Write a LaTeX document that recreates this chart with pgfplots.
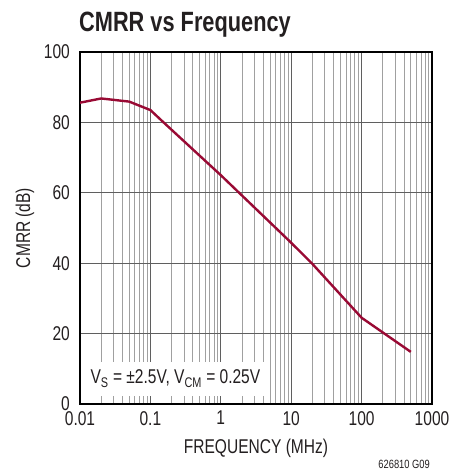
\documentclass[border=0pt]{standalone}
\usepackage{fontspec}
\setmainfont{Liberation Sans}[FakeStretch=0.78]
\usepackage{pgfplots}
\pgfplotsset{compat=1.18}
\definecolor{curve}{RGB}{153,10,52}
\definecolor{ink}{RGB}{35,31,32}
\definecolor{majgrid}{RGB}{95,95,95}
\definecolor{mingrid}{RGB}{160,160,160}

\begin{document}
\begin{tikzpicture}[x=1bp,y=1bp]
  \useasboundingbox (0,0) rectangle (467,472);

  \begin{axis}[at={(80bp,68bp)}, anchor=south west,
               scale only axis, width=352bp, height=352bp,
               xmode=log, xmin=0.01, xmax=1000, ymin=0, ymax=100,
               xtick={0.01,0.1,1,10,100,1000},
               xticklabels={0.01,0.1,1,10,100,1000},
               ytick={0,20,40,60,80,100},
               /pgf/number format/assume math mode=true,
               major tick length=0pt, minor tick length=0pt,
               grid=both,
               major grid style={draw=majgrid, line width=0.8bp},
               minor grid style={draw=mingrid, line width=0.8bp},
               axis line style={draw=black, line width=1.4bp},
               tick label style={font=\fontsize{20}{24}\selectfont, text=ink, inner sep=0pt},
               xticklabel style={anchor=north, yshift=-7bp},
               yticklabel style={anchor=east, xshift=-10bp},
               label style={font=\fontsize{20}{24}\selectfont, text=ink},
               xlabel={FREQUENCY (MHz)},
               xlabel style={at={(axis description cs:0.5,-0.142)}, anchor=base, inner sep=0pt},
               ylabel={CMRR (dB)},
               ylabel style={at={(axis description cs:-0.156,0.5)}, anchor=center, inner sep=0pt},
              ]
    \addplot[curve, line width=2.4bp, line join=round] coordinates {
      (0.01,85.6) (0.02,86.8) (0.05,85.9) (0.1,83.5) (0.15,80.2)
      (1,65.0) (10,45.8) (20,39.8) (100,24.5) (500,14.8)
    };
    \node[anchor=west, fill=white, inner xsep=9bp, inner ysep=0pt,
          minimum height=34bp, text=ink,
          font=\fontsize{20}{24}\selectfont]
      at (rel axis cs:0.004,0.072)
      {V\textsubscript{S} = ±2.5V, V\textsubscript{CM} = 0.25V};
  \end{axis}

  \node[anchor=base west, inner sep=0pt, text=ink,
        font=\fontsize{28}{32}\selectfont\bfseries] at (79,440.5) {CMRR vs Frequency};
  \node[anchor=base east, inner sep=0pt, text=ink,
        font=\fontsize{12}{14}\selectfont] at (430,3) {626810 G09};
\end{tikzpicture}
\end{document}
